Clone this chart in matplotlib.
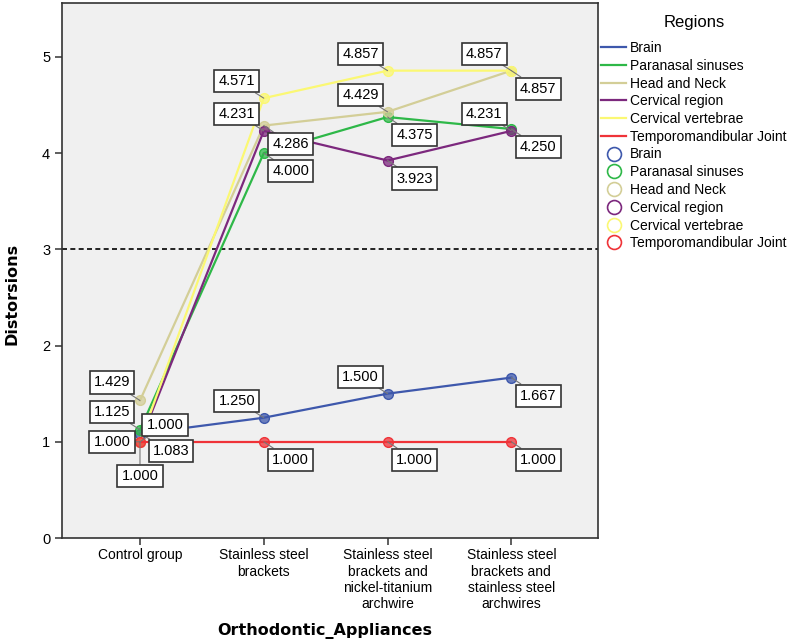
import matplotlib
matplotlib.use('Agg')
import matplotlib.pyplot as plt
from matplotlib.lines import Line2D
from matplotlib.colors import to_rgba

plt.rcParams['font.family'] = ['Liberation Sans', 'DejaVu Sans']

# Données
appareils = ['Control group',
             'Stainless steel\nbrackets',
             'Stainless steel\nbrackets and\nnickel-titanium\narchwire',
             'Stainless steel\nbrackets and\nstainless steel\narchwires']

regions = ['Brain', 'Paranasal sinuses', 'Head and Neck', 'Cervical region',
           'Cervical vertebrae', 'Temporomandibular Joint']

brain = [1.083, 1.250, 1.500, 1.667]
paranasal = [1.125, 4.000, 4.375, 4.250]
head_neck = [1.429, 4.286, 4.429, 4.857]
cervical_region = [1.000, 4.231, 3.923, 4.231]
cervical_vertebrae = [1.000, 4.571, 4.857, 4.857]
tmj = [1.000, 1.000, 1.000, 1.000]

series = [brain, paranasal, head_neck, cervical_region, cervical_vertebrae, tmj]
couleurs = ['#3E58AC', '#2EB848', '#D3CE97', '#7C287D', '#FBF873', '#EF3338']

# position des étiquettes (décalage en pixels)
HG = (-27, 17)
BD = (27, -18)
decalages = [
    [(31, -17), HG, HG, BD],
    [(-28, 18), BD, BD, BD],
    [(-28, 18), BD, HG, BD],
    [(25, 17), HG, BD, HG],
    [(-28, 0), HG, HG, HG],
    [(0, -34), BD, BD, BD],
]

fig = plt.figure(figsize=(7.94, 6.43), dpi=100)
ax = fig.add_axes([62 / 794, 1 - 538 / 643, (598 - 62) / 794, (538 - 3) / 643])
ax.set_facecolor('#F0F0F0')

x = list(range(len(appareils)))

# Ligne de référence
ax.axhline(3, color='black', lw=1.2, ls=(0, (3, 2)), zorder=1)

for vals, c in zip(series, couleurs):
    ax.plot(x, vals, color=c, lw=1.6, zorder=2,
            marker='o', ms=7, mfc=to_rgba(c, 0.75), mec=c, mew=1.0)

# Étiquettes de valeurs
for vals, decs in zip(series, decalages):
    for i, v in enumerate(vals):
        ax.annotate(f'{v:.3f}', xy=(i, v), xytext=decs[i], textcoords='offset pixels',
                    ha='center', va='center', fontsize=10.5, zorder=6,
                    bbox=dict(boxstyle='square,pad=0.28', fc='white', ec='#333333', lw=1.2),
                    arrowprops=dict(arrowstyle='-', color='#777777', lw=0.8,
                                    shrinkA=0, shrinkB=0))

ax.set_xlim(-0.63, 3.70)
ax.set_ylim(0, 5.56)
ax.set_xticks(x)
ax.set_xticklabels(appareils, fontsize=10, linespacing=1.2)
ax.set_yticks(range(6))
ax.set_yticklabels([str(k) for k in range(6)], fontsize=10.5)
ax.tick_params(direction='out', length=5, width=1.1, color='#333333')
ax.tick_params(axis='x', pad=2.5)

for s in ax.spines.values():
    s.set_color('#333333')
    s.set_linewidth(1.2)

ax.set_xlabel('Orthodontic_Appliances', fontsize=11.5, fontweight='bold', family='DejaVu Sans')
ax.xaxis.set_label_coords(0.49, -0.158)
ax.set_ylabel('Distorsions', fontsize=11.5, fontweight='bold', family='DejaVu Sans')
ax.yaxis.set_label_coords(-0.08, 0.457)

# Légende
poignees = []
for r, c in zip(regions, couleurs):
    poignees.append(Line2D([], [], color=c, lw=1.6))
for r, c in zip(regions, couleurs):
    poignees.append(Line2D([], [], ls='none', marker='o', mfc='none', mec=c, ms=10, mew=1.2))
fig.text(694 / 794, 1 - 22 / 643, 'Regions', fontsize=12, ha='center', va='center')
fig.legend(poignees, regions + regions, loc='upper left',
           bbox_to_anchor=(601 / 794, 1 - 41 / 643), frameon=False,
           fontsize=10, handlelength=1.8, handletextpad=0.3,
           labelspacing=0.27, borderpad=0, borderaxespad=0)

plt.savefig('out.png', dpi=100)
